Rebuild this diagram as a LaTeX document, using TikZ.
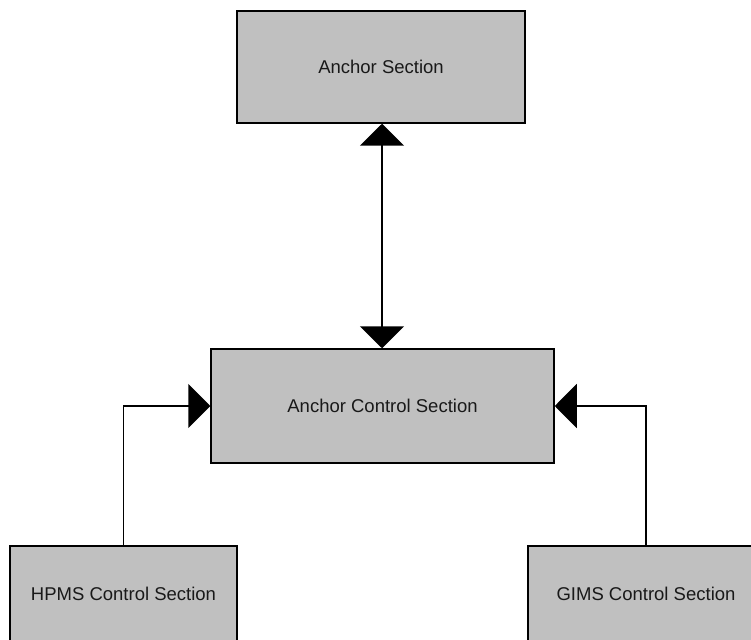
\documentclass[tikz,border=0pt]{standalone}
\usepackage{fontspec}
\setmainfont{Liberation Sans}
\usetikzlibrary{arrows.meta}
\definecolor{boxgray}{HTML}{C0C0C0}
\tikzset{
  sect/.style={draw=black, fill=boxgray, line width=1.5pt, inner sep=0pt,
    font=\fontsize{18.5}{22}\selectfont, text=black!90},
  conn/.style={draw=black, line width=1.5pt},
  tip/.style={-{Triangle[width=44pt,length=22pt]}},
  tips/.style={{Triangle[width=44pt,length=22pt]}-{Triangle[width=44pt,length=22pt]}}
}
\begin{document}
\begin{tikzpicture}[x=1pt,y=-1pt]
\clip (0,0) rectangle (751,639);
\fill[white] (0,0) rectangle (751,639);
\node[sect, minimum width=288pt, minimum height=112pt] (as) at (381,67) {Anchor Section};
\node[sect, minimum width=343pt, minimum height=114pt] (acs) at (382.5,406) {Anchor Control Section};
\node[sect, minimum width=227pt, minimum height=96pt] (hpms) at (123.5,594) {HPMS Control Section};
\node[sect, minimum width=236pt, minimum height=96pt] (gims) at (646,594) {GIMS Control Section};
\draw[conn, tips] (as.south -| 382,0) -- (acs.north -| 382,0);
\draw[conn, tip] (hpms.north) |- (acs.west);
\draw[conn, tip] (gims.north) |- (acs.east);
\end{tikzpicture}
\end{document}
